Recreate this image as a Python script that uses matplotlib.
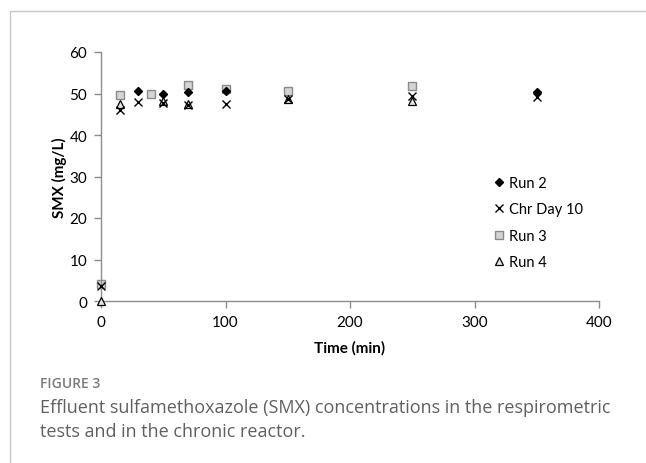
import matplotlib
matplotlib.use("Agg")
import matplotlib.pyplot as plt
from matplotlib.patches import Rectangle

# ---- data ----
run2_t = [30, 50, 70, 100, 350]
run2_y = [50.5, 49.8, 50.3, 50.5, 50.3]

chr_t = [0, 15, 30, 50, 70, 100, 150, 250, 350]
chr_y = [3.5, 46.0, 48.0, 47.8, 47.3, 47.5, 48.7, 49.5, 49.1]

run3_t = [0, 15, 40, 70, 100, 150, 250]
run3_y = [4.0, 49.6, 50.0, 52.0, 51.1, 50.7, 51.7]

run4_t = [0, 15, 50, 70, 150, 250]
run4_y = [0.0, 47.5, 48.1, 47.5, 48.7, 48.3]

x_ticks = [0, 100, 200, 300, 400]
y_ticks = [0, 10, 20, 30, 40, 50, 60]

W, H = 646, 464
fig = plt.figure(figsize=(W / 100, H / 100), dpi=100)
fig.patch.set_facecolor("white")

# outer frame
fig.patches.append(Rectangle((10 / W, -0.1), 1.2, (H - 12) / H + 0.1,
                             transform=fig.transFigure, fill=False,
                             edgecolor="#c8c8c8", linewidth=1.0))

ax = fig.add_axes([101 / W, 1 - 302 / H, (599 - 101) / W, (302 - 53) / H])
ax.set_xlim(0, 400)
ax.set_ylim(0, 60)
ax.set_xticks(x_ticks)
ax.set_yticks(y_ticks)

sp_col = "#8c8c8c"
for s in ["top", "right"]:
    ax.spines[s].set_visible(False)
for s in ["left", "bottom"]:
    ax.spines[s].set_color(sp_col)
    ax.spines[s].set_linewidth(1.0)
ax.tick_params(axis="both", colors=sp_col, length=5, width=1.0, direction="out",
               labelcolor="black", labelsize=11)
ax.tick_params(axis="y", pad=5)
ax.tick_params(axis="x", pad=5)
for lab in ax.get_xticklabels() + ax.get_yticklabels():
    lab.set_family("Lato")

ax.plot(run2_t, run2_y, linestyle="none", marker="D", markersize=3.6,
        color="black", label="Run 2", zorder=3)
ax.plot(chr_t, chr_y, linestyle="none", marker="x", markersize=6,
        markeredgewidth=1.0, color="black", label="Chr Day 10", zorder=4)
ax.plot(run3_t, run3_y, linestyle="none", marker="s", markersize=5.2,
        markerfacecolor="#d4d4d4", markeredgecolor="#8a8a8a",
        markeredgewidth=1.0, label="Run 3", zorder=2)
ax.plot(run4_t, run4_y, linestyle="none", marker="^", markersize=6,
        markerfacecolor="#e6e6e6", markeredgecolor="black",
        markeredgewidth=0.9, label="Run 4", zorder=3)
for ln in ax.get_lines():
    ln.set_clip_on(False)

leg = ax.legend(loc="upper left",
                bbox_to_anchor=((486 - 101) / (599 - 101), (302 - 171) / (302 - 53)),
                frameon=False, prop={"family": "Lato", "size": 10.5},
                handletextpad=0.15, labelspacing=0.85, handlelength=1.0,
                borderaxespad=0)

ax.set_xlabel("Time (min)", fontsize=11, fontweight="bold", family="Lato", labelpad=8)
ax.set_ylabel("SMX (mg/L)", fontsize=11, fontweight="bold", family="Lato", labelpad=2)

fig.text(40 / W, 1 - 384 / H, "FIGURE 3", fontsize=10, color="#7a7a7a",
         family="Open Sans", fontweight="semibold", va="center", ha="left")
fig.text(40 / W, 1 - 408 / H,
         "Effluent sulfamethoxazole (SMX) concentrations in the respirometric",
         fontsize=13, color="#606060", family="Open Sans", va="center", ha="left")
fig.text(40 / W, 1 - 432 / H, "tests and in the chronic reactor.",
         fontsize=13, color="#606060", family="Open Sans", va="center", ha="left")

fig.savefig("out.png", dpi=100)
